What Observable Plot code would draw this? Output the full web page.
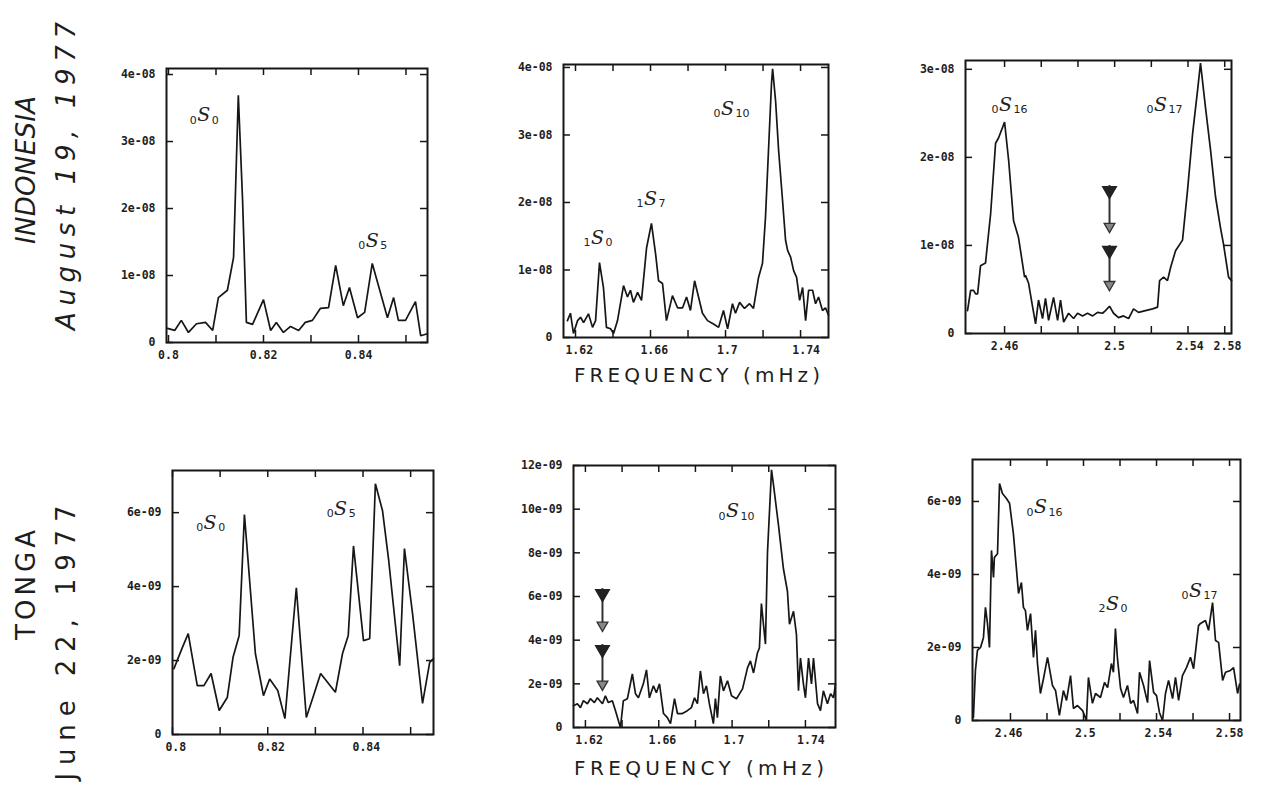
<!DOCTYPE html>
<html><head><meta charset="utf-8">
<script src="https://cdn.jsdelivr.net/npm/d3@7"></script>
<script src="https://cdn.jsdelivr.net/npm/@observablehq/plot@0.6"></script>
<style>
body{margin:0;background:#fff;}
#root{position:relative;width:1262px;height:785px;overflow:hidden;background:#fff;}
#root svg{position:absolute;}
</style></head><body><div id="root"></div><script>
// ---- Data: [frequency (mHz), amplitude] ; top row amplitude in units of 1e-08, bottom row in 1e-09
const indonesiaLow = [[0.7998,0.21],[0.8013,0.18],[0.8027,0.33],[0.8042,0.15],[0.8059,0.28],[0.8078,0.30],[0.8093,0.18],[0.8105,0.67],[0.8124,0.78],[0.8137,1.27],[0.8147,3.69],[0.8156,2.12],[0.8164,0.30],[0.8177,0.27],[0.8200,0.64],[0.8215,0.18],[0.8227,0.30],[0.8242,0.15],[0.8257,0.24],[0.8274,0.18],[0.8288,0.30],[0.8303,0.33],[0.8320,0.51],[0.8337,0.52],[0.8352,1.15],[0.8368,0.55],[0.8381,0.82],[0.8398,0.37],[0.8413,0.45],[0.8429,1.18],[0.8461,0.37],[0.8474,0.67],[0.8484,0.33],[0.8499,0.33],[0.8520,0.61],[0.8531,0.10],[0.8545,0.13]];
const indonesiaMid = [[1.6157,0.25],[1.6173,0.36],[1.6189,0.06],[1.6211,0.25],[1.6227,0.30],[1.6243,0.22],[1.6269,0.35],[1.6291,0.15],[1.6307,0.25],[1.6328,1.11],[1.6349,0.74],[1.6365,0.15],[1.6387,0.13],[1.6403,0.06],[1.6424,0.25],[1.6456,0.77],[1.6477,0.60],[1.6493,0.70],[1.6509,0.52],[1.6531,0.67],[1.6552,0.55],[1.6579,1.33],[1.6605,1.69],[1.6627,1.24],[1.6643,0.84],[1.6664,0.80],[1.6685,0.25],[1.6717,0.62],[1.6744,0.44],[1.6771,0.44],[1.6792,0.60],[1.6813,0.40],[1.6835,0.84],[1.6856,0.60],[1.6877,0.36],[1.6904,0.25],[1.6936,0.20],[1.6963,0.15],[1.6989,0.40],[1.7011,0.13],[1.7037,0.50],[1.7053,0.36],[1.7075,0.52],[1.7101,0.43],[1.7128,0.50],[1.7149,0.43],[1.7176,0.89],[1.7197,1.10],[1.7213,1.78],[1.7229,2.77],[1.7245,3.76],[1.7251,3.98],[1.7267,3.50],[1.7283,2.77],[1.7304,2.03],[1.7320,1.44],[1.7331,1.29],[1.7347,1.19],[1.7363,0.99],[1.7379,0.89],[1.7395,0.55],[1.7411,0.74],[1.7427,0.25],[1.7443,0.70],[1.7464,0.70],[1.7480,0.50],[1.7496,0.60],[1.7517,0.40],[1.7533,0.44],[1.7549,0.33]];
const indonesiaHigh = [[2.4398,0.26],[2.4415,0.49],[2.4431,0.49],[2.4442,0.45],[2.4453,0.45],[2.4469,0.77],[2.4496,0.80],[2.4524,1.36],[2.4551,2.16],[2.4567,2.22],[2.4600,2.40],[2.4622,1.97],[2.4649,1.28],[2.4676,1.09],[2.4709,0.64],[2.4714,0.66],[2.4731,0.57],[2.4753,0.30],[2.4769,0.11],[2.4785,0.38],[2.4807,0.17],[2.4823,0.40],[2.4840,0.15],[2.4867,0.41],[2.4889,0.15],[2.4905,0.38],[2.4922,0.13],[2.4949,0.23],[2.4976,0.17],[2.4998,0.23],[2.5025,0.20],[2.5052,0.23],[2.5080,0.20],[2.5107,0.24],[2.5134,0.23],[2.5150,0.26],[2.5172,0.31],[2.5194,0.23],[2.5221,0.18],[2.5248,0.20],[2.5276,0.17],[2.5303,0.28],[2.5330,0.24],[2.5368,0.26],[2.5407,0.28],[2.5434,0.30],[2.5445,0.60],[2.5467,0.64],[2.5488,0.60],[2.5505,0.75],[2.5532,0.94],[2.5570,1.06],[2.5597,1.62],[2.5625,2.27],[2.5652,2.76],[2.5668,3.07],[2.5695,2.57],[2.5723,2.08],[2.5750,1.55],[2.5777,1.20],[2.5793,1.02],[2.5821,0.64],[2.5837,0.60]];
const tongaLow = [[0.8003,1.78],[0.8020,2.33],[0.8033,2.73],[0.8052,1.32],[0.8066,1.32],[0.8081,1.65],[0.8098,0.65],[0.8115,1.00],[0.8127,2.08],[0.8140,2.68],[0.8151,5.95],[0.8155,5.30],[0.8174,2.19],[0.8191,1.05],[0.8204,1.50],[0.8221,1.19],[0.8236,0.43],[0.8260,3.97],[0.8281,0.46],[0.8296,1.05],[0.8311,1.65],[0.8342,1.14],[0.8357,2.19],[0.8369,2.68],[0.8380,5.10],[0.8401,2.54],[0.8414,2.59],[0.8426,6.78],[0.8441,6.05],[0.8454,4.70],[0.8477,1.86],[0.8487,5.03],[0.8504,3.27],[0.8525,0.84],[0.8540,1.95],[0.8548,2.05]];
const tongaMid = [[1.6135,1.00],[1.6156,1.09],[1.6173,0.91],[1.6189,1.23],[1.6211,1.09],[1.6227,1.32],[1.6249,1.14],[1.6265,1.36],[1.6293,1.09],[1.6309,1.45],[1.6325,1.14],[1.6347,1.23],[1.6364,0.77],[1.6391,0.00],[1.6407,1.23],[1.6429,1.32],[1.6456,2.45],[1.6473,1.55],[1.6489,1.36],[1.6516,2.00],[1.6533,2.64],[1.6549,1.36],[1.6571,1.91],[1.6587,1.59],[1.6604,2.00],[1.6626,0.64],[1.6647,0.45],[1.6664,0.18],[1.6686,1.32],[1.6702,0.64],[1.6729,0.64],[1.6756,0.77],[1.6778,0.91],[1.6795,1.36],[1.6811,1.09],[1.6827,2.59],[1.6844,1.55],[1.6860,1.91],[1.6876,1.09],[1.6898,0.18],[1.6909,1.32],[1.6920,0.45],[1.6936,2.36],[1.6953,1.68],[1.6975,2.14],[1.6997,1.45],[1.7024,1.32],[1.7057,1.77],[1.7084,2.73],[1.7100,3.05],[1.7117,2.50],[1.7138,3.41],[1.7149,3.64],[1.7160,5.68],[1.7171,4.73],[1.7182,3.82],[1.7193,8.00],[1.7215,11.80],[1.7226,11.10],[1.7253,9.27],[1.7280,7.27],[1.7302,6.23],[1.7313,4.73],[1.7335,5.32],[1.7351,4.27],[1.7362,1.68],[1.7373,3.18],[1.7389,2.00],[1.7400,1.36],[1.7417,3.18],[1.7433,2.00],[1.7444,3.18],[1.7466,1.09],[1.7482,0.77],[1.7498,1.68],[1.7520,1.09],[1.7537,1.55],[1.7553,1.36],[1.7564,2.00]];
const tongaHigh = [[2.4397,0.08],[2.4408,1.37],[2.4419,1.92],[2.4436,2.00],[2.4452,2.27],[2.4463,3.10],[2.4474,2.66],[2.4485,2.00],[2.4496,4.66],[2.4507,3.92],[2.4512,4.47],[2.4529,4.57],[2.4540,6.49],[2.4556,6.22],[2.4578,6.08],[2.4595,5.95],[2.4616,5.12],[2.4638,3.84],[2.4644,3.48],[2.4660,3.78],[2.4671,3.10],[2.4682,3.01],[2.4693,2.47],[2.4710,2.93],[2.4726,1.73],[2.4737,2.47],[2.4748,1.56],[2.4764,0.74],[2.4781,1.15],[2.4803,1.73],[2.4830,0.96],[2.4847,0.82],[2.4868,0.14],[2.4890,0.82],[2.4907,0.55],[2.4929,1.23],[2.4945,0.33],[2.4967,0.41],[2.4995,0.27],[2.5016,0.00],[2.5027,1.18],[2.5049,0.47],[2.5066,0.74],[2.5093,0.63],[2.5115,1.04],[2.5132,0.90],[2.5153,1.56],[2.5164,1.32],[2.5175,2.52],[2.5186,1.70],[2.5203,0.88],[2.5219,0.63],[2.5241,0.96],[2.5258,0.47],[2.5274,0.55],[2.5296,0.19],[2.5307,1.32],[2.5329,0.96],[2.5351,0.49],[2.5362,1.64],[2.5384,0.77],[2.5400,0.68],[2.5416,0.22],[2.5433,0.00],[2.5449,0.74],[2.5466,1.10],[2.5488,0.60],[2.5504,1.18],[2.5521,0.55],[2.5542,1.23],[2.5564,1.45],[2.5586,1.73],[2.5603,1.42],[2.5630,2.60],[2.5641,2.66],[2.5668,2.74],[2.5685,2.47],[2.5707,3.23],[2.5723,2.19],[2.5740,2.14],[2.5762,1.10],[2.5778,1.32],[2.5805,1.37],[2.5822,1.45],[2.5844,0.74],[2.5855,1.00]];

// mode labels: [freq, amp, overtone n, degree l]
const indonesiaLowModes = [[0.8074,3.39,"0","0"],[0.8429,1.52,"0","5"]];
const indonesiaMidModes = [[1.6317,1.48,"1","0"],[1.6600,2.06,"1","7"],[1.7011,3.39,"0","10"]];
const indonesiaHighModes = [[2.4605,2.60,"0","16"],[2.5450,2.60,"0","17"]];
const tongaLowModes = [[0.8079,5.73,"0","0"],[0.8353,6.10,"0","5"]];
const tongaMidModes = [[1.7002,9.90,"0","10"]];
const tongaHighModes = [[2.4764,5.84,"0","16"],[2.5159,3.20,"2","0"],[2.5614,3.56,"0","17"]];

// double arrows: [freq, featherTop, tip]
const indonesiaArrows = [[2.5172,1.68,1.17],[2.5172,1.00,0.51]];
const tongaArrows = [[1.6293,6.36,4.50],[1.6293,3.80,1.80]];

// ticks and tick labels
const lowTicks = [0.80,0.81,0.82,0.83,0.84,0.85];
const lowLabelAt = [0.80,0.82,0.84], lowLabelText = ["0.8","0.82","0.84"];
const midTicks = [1.62,1.64,1.66,1.68,1.70,1.72,1.74];
const midLabelAt = [1.622,1.662,1.701,1.743], midLabelText = ["1.62","1.66","1.7","1.74"];
const highTicks = [2.46,2.48,2.50,2.52,2.54,2.56,2.58];
const indonesiaHighLabelAt = [2.46,2.52,2.561,2.5815], highLabelText = ["2.46","2.5","2.54","2.58"];
const tongaHighLabelAt = [2.459,2.501,2.541,2.58];
const yTicks4 = [0,1,2,3,4], yTicks3 = [0,1,2,3], yTicks6 = [0,2,4,6], yTicks12 = [0,2,4,6,8,10,12];

const panels = [
  {data:indonesiaLow, modes:indonesiaLowModes, arrows:[], L:166,R:427,T:68,B:342, xd:[0.79958,0.85453], yd:[0,4.09], xt:lowTicks, xl:lowLabelAt, xs:lowLabelText, yt:yTicks4, ex:"e-08"},
  {data:indonesiaMid, modes:indonesiaMidModes, arrows:[], L:563,R:828,T:64,B:337, xd:[1.6136,1.7549], yd:[0,4.044], xt:midTicks, xl:midLabelAt, xs:midLabelText, yt:yTicks4, ex:"e-08"},
  {data:indonesiaHigh, modes:indonesiaHighModes, arrows:indonesiaArrows, L:965,R:1231,T:60,B:333, xd:[2.4387,2.5837], yd:[0,3.10], xt:highTicks, xl:indonesiaHighLabelAt, xs:highLabelText, yt:yTicks3, ex:"e-08"},
  {data:tongaLow, modes:tongaLowModes, arrows:[], L:172,R:433,T:470,B:734, xd:[0.8,0.8548], yd:[0,7.14], xt:lowTicks, xl:lowLabelAt.map(v=>v+0.0007), xs:lowLabelText, yt:yTicks6, ex:"e-09"},
  {data:tongaMid, modes:tongaMidModes, arrows:tongaArrows, L:573,R:835,T:465,B:727, xd:[1.6135,1.7564], yd:[0,12], xt:midTicks, xl:midLabelAt, xs:midLabelText, yt:yTicks12, ex:"e-09"},
  {data:tongaHigh, modes:tongaHighModes, arrows:[], L:972,R:1240,T:459,B:720, xd:[2.4392,2.5860], yd:[0,7.15], xt:highTicks, xl:tongaHighLabelAt, xs:highLabelText, yt:yTicks6, ex:"e-09"}
];

const ink = "#161616";
const tickFont = {fontFamily:"DejaVu Sans Mono", fontWeight:"bold", fontSize:11.5, fill:"#1e1e1e"};
const root = document.getElementById("root");
const mL=70, mR=12, mT=12, mB=34;

for (const p of panels) {
  const fw = p.R - p.L, fh = p.B - p.T;
  const rows = p.data.map(([f,a]) => ({f, a}));
  const modes = p.modes.map(([f,a,n,l]) => ({f, a, n, l}));
  const arrows = p.arrows.map(([f,top,tip]) => ({f, top, tip}));
  const xlab = p.xl.map((v,i) => ({v, t: p.xs[i]}));
  const chart = Plot.plot({
    width: fw + mL + mR, height: fh + mT + mB,
    marginLeft: mL, marginRight: mR, marginTop: mT, marginBottom: mB,
    x: {domain: p.xd, axis: null}, y: {domain: p.yd, axis: null},
    style: {background: "transparent", overflow: "visible"},
    marks: [
      Plot.ruleX(p.xt, {x: d => d, insetTop: fh - 7, stroke: ink, strokeWidth: 1.5}),
      Plot.ruleX(p.xt, {x: d => d, insetBottom: fh - 7, stroke: ink, strokeWidth: 1.5}),
      Plot.ruleY(p.yt, {y: d => d, insetRight: fw - 7, stroke: ink, strokeWidth: 1.5}),
      Plot.ruleY(p.yt, {y: d => d, insetLeft: fw - 7, stroke: ink, strokeWidth: 1.5}),
      Plot.text(xlab, {x: "v", y: p.yd[0], text: "t", dy: 13, ...tickFont}),
      Plot.text(p.yt, {x: p.xd[0], y: d => d, text: d => d === 0 ? "0" : d + p.ex, textAnchor: "end", dx: -11, ...tickFont}),
      Plot.line(rows, {x: "f", y: "a", stroke: ink, strokeWidth: 1.7, strokeLinejoin: "miter"}),
      Plot.frame({stroke: ink, strokeWidth: 2}),
      Plot.text(modes, {x: "f", y: "a", text: "n", textAnchor: "end", dx: -7, dy: 5, fontSize: 11, fontFamily: "DejaVu Sans", fill: "#222"}),
      Plot.text(modes, {x: "f", y: "a", text: () => "S", fontSize: 19, fontStyle: "italic", fontFamily: "DejaVu Serif", fill: "#222"}),
      Plot.text(modes, {x: "f", y: "a", text: "l", textAnchor: "start", dx: 8, dy: 5, fontSize: 11, fontFamily: "DejaVu Sans", fill: "#222"}),
      Plot.ruleX(arrows, {x: "f", y1: "top", y2: "tip", stroke: "#333", strokeWidth: 2}),
      Plot.dot(arrows, {x: "f", y: "top", symbol: "triangle", rotate: 180, r: 5, fill: "#222", stroke: "#222", dy: 5}),
      Plot.dot(arrows, {x: "f", y: "tip", symbol: "triangle", rotate: 180, r: 4, fill: "#888", stroke: "#333", strokeWidth: 1.3, dy: -4})
    ]
  });
  chart.style.left = (p.L - mL) + "px";
  chart.style.top = (p.T - mT) + "px";
  root.appendChild(chart);
}

// ---- overlay texts: side titles and axis names
const titles = [
  {text:"INDONESIA", x:26, y:170, len:148, size:26, italic:true},
  {text:"August 19, 1977", x:66, y:176, len:308, size:26, italic:true},
  {text:"TONGA", x:26, y:585, len:110, size:26, italic:false},
  {text:"June 22, 1977", x:66, y:643, len:275, size:26, italic:false}
];
const axisNames = [
  {text:"FREQUENCY  (mHz)", x:697, y:375, len:246},
  {text:"FREQUENCY  (mHz)", x:699, y:768, len:250}
];
const ns = "http://www.w3.org/2000/svg";
const ov = document.createElementNS(ns, "svg");
ov.setAttribute("width", 1262); ov.setAttribute("height", 785);
ov.style.left = "0px"; ov.style.top = "0px"; ov.style.pointerEvents = "none";
for (const t of titles) {
  const el = document.createElementNS(ns, "text");
  el.setAttribute("transform", `translate(${t.x},${t.y}) rotate(-90)`);
  el.setAttribute("text-anchor", "middle");
  el.setAttribute("dominant-baseline", "central");
  el.setAttribute("font-family", "DejaVu Sans");
  el.setAttribute("font-size", t.size);
  if (t.italic) el.setAttribute("font-style", "italic");
  el.setAttribute("fill", "#1e1e1e");
  el.setAttribute("textLength", t.len);
  el.setAttribute("lengthAdjust", "spacing");
  el.textContent = t.text;
  ov.appendChild(el);
}
for (const t of axisNames) {
  const el = document.createElementNS(ns, "text");
  el.setAttribute("x", t.x); el.setAttribute("y", t.y);
  el.setAttribute("text-anchor", "middle");
  el.setAttribute("dominant-baseline", "central");
  el.setAttribute("font-family", "DejaVu Sans");
  el.setAttribute("font-size", 20);
  el.setAttribute("fill", "#1e1e1e");
  el.setAttribute("textLength", t.len);
  el.setAttribute("lengthAdjust", "spacing");
  el.textContent = t.text;
  ov.appendChild(el);
}
root.appendChild(ov);
</script></body></html>
